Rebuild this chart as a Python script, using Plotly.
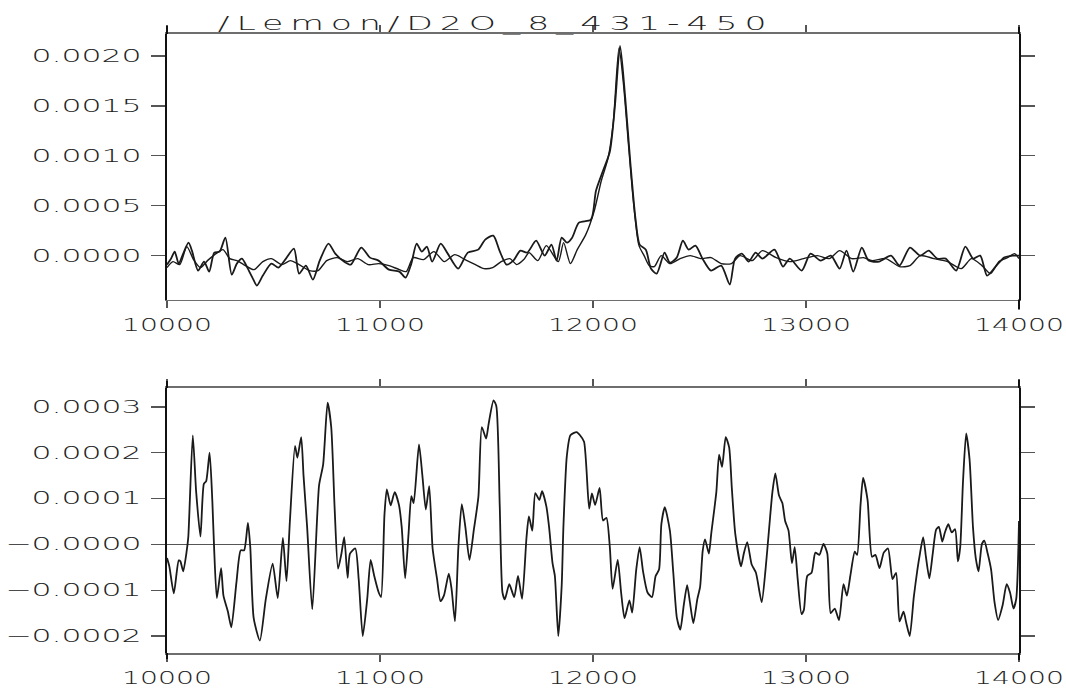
import plotly.graph_objects as go

# ---------------------------------------------------------------- data
TITLE = "/Lemon/D2O_8_431-450"

X_TICKS = [10000, 11000, 12000, 13000, 14000]
X_TICK_TEXT = ["10000", "11000", "12000", "13000", "14000"]

TOP_Y_TICKS = [0.0, 0.0005, 0.0010, 0.0015, 0.0020]
TOP_Y_TEXT = ["0.0000", "0.0005", "0.0010", "0.0015", "0.0020"]

BOT_Y_TICKS = [-0.0002, -0.0001, 0.0, 0.0001, 0.0002, 0.0003]
BOT_Y_TEXT = ["\u22120.0002", "\u22120.0001", "\u22120.0000", "0.0001", "0.0002", "0.0003"]

# values below are given in units of 1e-4
UNIT = 1e-4

# observed spectrum
obs_x = [10000, 10019, 10036, 10055, 10076, 10101, 10117, 10146, 10174, 10198,
         10222, 10247, 10274, 10304, 10328, 10352, 10377, 10401, 10422, 10450,
         10490, 10523, 10555, 10596, 10620, 10652, 10685, 10717, 10758, 10790,
         10831, 10863, 10912, 10953, 10993, 11042, 11091, 11120, 11147, 11172,
         11196, 11220, 11245, 11285, 11318, 11367, 11412, 11461, 11494, 11532,
         11561, 11594, 11626, 11659, 11691, 11733, 11773, 11805, 11829, 11853,
         11878, 11902, 11934, 11990, 12014, 12047, 12079, 12103, 12127, 12151,
         12175, 12200, 12219, 12248, 12272, 12299, 12336, 12361, 12393, 12422,
         12449, 12481, 12514, 12554, 12602, 12642, 12667, 12699, 12731, 12763,
         12795, 12852, 12892, 12924, 12980, 13021, 13069, 13117, 13158, 13190,
         13222, 13262, 13294, 13343, 13399, 13439, 13488, 13536, 13576, 13616,
         13656, 13705, 13748, 13785, 13818, 13850, 13890, 13930, 13971, 14000]
obs_y = [-0.9, -0.3, 0.4, -0.8, 0.2, 1.3, 0.5, -1.5, -0.6, -1.6,
         0.3, 0.4, 1.8, -1.9, -0.8, -0.3, -1.2, -2.2, -3.0, -2.0,
         -0.8, -1.2, -0.4, 0.7, -1.8, -1.0, -2.4, -0.5, 1.2, 0.2,
         -0.6, -0.9, 0.8, -0.2, -0.5, -1.4, -1.6, -2.2, -0.8, 1.2,
         0.4, 0.9, -0.6, 1.2, 0.2, -1.3, 0.3, 0.6, 1.6, 2.0,
         0.5, -0.9, -0.5, 0.5, 0.3, 1.5, 0.0, 1.1, -0.5, 1.8,
         1.3, 1.8, 3.3, 3.6, 6.5, 8.5, 10.4, 15.0, 21.0, 15.9,
         9.4, 3.6, 1.1, 0.6, -1.3, -1.8, 0.3, -0.7, -0.2, 1.5,
         0.6, 1.0, -0.3, -1.5, -1.0, -2.9, -0.3, 0.2, -0.6, 0.3,
         -0.3, 0.6, -1.1, -0.3, -1.5, 0.2, -0.5, 0.0, -1.3, 0.5,
         -1.6, 0.8, -0.5, -0.6, 0.0, -1.0, 0.8, 0.0, 0.5, -0.3,
         -0.3, -1.5, 0.9, -0.3, 0.0, -2.0, -1.1, -0.2, 0.0, 0.0]

# fitted spectrum
fit_x = [10000, 10028, 10060, 10093, 10125, 10157, 10190, 10230, 10263, 10295,
         10328, 10360, 10409, 10450, 10490, 10539, 10579, 10620, 10669, 10709,
         10750, 10799, 10847, 10896, 10945, 10993, 11042, 11091, 11123, 11156,
         11204, 11253, 11302, 11351, 11399, 11448, 11488, 11529, 11569, 11610,
         11642, 11675, 11700, 11741, 11781, 11837, 11862, 11894, 11926, 11966,
         12006, 12039, 12071, 12095, 12122, 12143, 12167, 12192, 12216, 12240,
         12264, 12288, 12320, 12361, 12409, 12457, 12505, 12554, 12602, 12650,
         12691, 12747, 12795, 12860, 12924, 12989, 13053, 13109, 13158, 13214,
         13270, 13310, 13375, 13439, 13488, 13536, 13600, 13665, 13729, 13777,
         13826, 13866, 13906, 13946, 13979, 14000]
fit_y = [-1.2, -0.6, -0.9, 0.9, -0.4, -1.2, -0.5, 0.2, 0.6, -0.3,
         -0.5, -0.9, -1.4, -0.6, -0.3, -0.9, -0.5, -0.9, -1.5, -1.5,
         -0.5, -0.2, -0.6, -0.3, -0.9, -0.8, -1.0, -1.4, -1.6, -0.2,
         -0.4, 0.4, -0.6, 0.1, -0.4, -0.9, -1.3, -1.2, -0.6, -0.3,
         -0.9, -0.4, 0.3, -0.5, 1.0, -0.6, 1.3, -0.8, 0.6, 2.1,
         4.5, 7.5, 9.8, 13.3, 20.8, 17.2, 11.0, 4.9, 1.0, 0.0,
         -1.0, -1.1, 0.0, -0.8, -0.3, 0.0, -0.3, -0.2, -0.8, -0.8,
         0.0, -0.5, 0.5, -0.2, -0.6, -0.3, 0.0, -0.3, 0.5, -0.3,
         -0.2, -0.5, -0.3, -1.1, -1.0, 0.0, -0.3, -0.6, -1.3, -0.3,
         -1.0, -1.8, -0.6, -0.2, 0.2, -0.3]

# residual
resid_x = [10000, 10011, 10032, 10055, 10063, 10076, 10092, 10100, 10121, 10137,
           10157, 10173, 10184, 10200, 10213, 10221, 10234, 10254, 10265, 10286,
           10302, 10326, 10346, 10362, 10380, 10391, 10407, 10436, 10464, 10496,
           10520, 10544, 10561, 10577, 10601, 10612, 10630, 10641, 10658, 10682,
           10714, 10733, 10754, 10771, 10787, 10803, 10819, 10832, 10848, 10859,
           10884, 10900, 10919, 10940, 10956, 10973, 10994, 11005, 11021, 11032,
           11050, 11069, 11089, 11102, 11118, 11134, 11147, 11158, 11183, 11199,
           11215, 11231, 11247, 11268, 11284, 11300, 11323, 11336, 11352, 11368,
           11384, 11401, 11420, 11441, 11462, 11478, 11498, 11510, 11533, 11546,
           11562, 11575, 11586, 11607, 11630, 11648, 11667, 11688, 11699, 11715,
           11729, 11748, 11761, 11781, 11794, 11810, 11821, 11837, 11853, 11861,
           11877, 11894, 11923, 11939, 11958, 11982, 11995, 12010, 12031, 12047,
           12063, 12079, 12092, 12116, 12132, 12148, 12171, 12184, 12203, 12219,
           12235, 12256, 12277, 12294, 12310, 12321, 12337, 12361, 12377, 12394,
           12410, 12426, 12442, 12455, 12471, 12490, 12503, 12515, 12526, 12544,
           12555, 12579, 12592, 12606, 12623, 12639, 12652, 12668, 12695, 12708,
           12724, 12745, 12765, 12792, 12810, 12826, 12842, 12856, 12873, 12889,
           12902, 12918, 12934, 12947, 12961, 12979, 12990, 13006, 13026, 13044,
           13063, 13082, 13100, 13116, 13135, 13155, 13176, 13192, 13208, 13229,
           13240, 13256, 13268, 13289, 13310, 13326, 13345, 13365, 13385, 13406,
           13423, 13439, 13458, 13471, 13487, 13506, 13523, 13535, 13550, 13563,
           13579, 13595, 13611, 13624, 13640, 13652, 13668, 13684, 13700, 13713,
           13724, 13737, 13752, 13768, 13784, 13797, 13810, 13826, 13837, 13853,
           13869, 13885, 13902, 13923, 13942, 13958, 13974, 13987, 14000]
resid_y = [-0.30, -0.48, -1.07, -0.35, -0.37, -0.59, -0.16, 0.16, 2.38, 1.14,
           0.17, 1.32, 1.38, 2.00, 0.93, -0.06, -1.17, -0.52, -1.12, -1.47,
           -1.81, -0.83, -0.13, -0.13, 0.47, -0.06, -1.61, -2.10, -1.19, -0.42,
           -1.17, 0.14, -0.80, 0.51, 2.15, 1.89, 2.34, 1.50, 0.37, -1.42,
           1.29, 1.74, 3.09, 2.56, 0.79, -0.53, -0.20, 0.16, -0.73, -0.20,
           -0.09, -0.76, -2.00, -1.19, -0.34, -0.69, -1.05, -1.15, 0.65, 1.20,
           0.85, 1.14, 0.86, 0.37, -0.74, 0.23, 1.05, 0.90, 2.18, 1.50,
           0.76, 1.27, -0.09, -0.76, -1.24, -1.12, -0.64, -0.97, -1.68, -0.06,
           0.88, 0.37, -0.34, 0.33, 1.04, 2.56, 2.31, 2.63, 3.14, 3.02,
           0.86, -1.05, -1.20, -0.87, -1.15, -0.69, -1.19, 0.16, 0.61, 0.30,
           1.12, 0.97, 1.16, 0.83, 0.37, -0.41, -0.69, -2.00, -0.90, 0.37,
           1.92, 2.38, 2.45, 2.38, 2.24, 0.78, 1.11, 0.86, 1.23, 0.52,
           0.58, -0.06, -0.97, -0.34, -1.05, -1.61, -1.22, -1.49, -0.55, -0.06,
           -0.59, -1.05, -1.15, -0.69, -0.55, 0.44, 0.81, 0.30, -0.62, -1.61,
           -1.86, -1.33, -0.89, -1.26, -1.72, -1.19, -0.92, -0.14, 0.11, -0.20,
           0.23, 1.14, 1.96, 1.69, 2.34, 2.12, 1.21, 0.23, -0.48, -0.20,
           0.05, -0.44, -0.62, -1.26, -0.55, 0.30, 1.13, 1.55, 1.07, 0.90,
           0.51, 0.30, -0.41, -0.06, -0.76, -1.52, -1.43, -0.69, -0.62, -0.18,
           -0.23, 0.01, -0.20, -1.50, -1.40, -1.65, -0.87, -1.12, -0.69, -0.16,
           -0.23, 0.86, 1.45, 0.97, -0.27, -0.23, -0.52, -0.18, -0.09, -0.76,
           -0.62, -1.68, -1.47, -1.72, -2.00, -1.15, -0.55, -0.20, 0.16, -0.27,
           -0.74, -0.20, 0.32, 0.38, 0.06, 0.26, 0.44, 0.26, 0.33, -0.37,
           -0.06, 1.36, 2.42, 1.85, 0.37, -0.30, -0.59, 0.01, 0.08, -0.20,
           -0.55, -1.26, -1.65, -1.33, -0.87, -1.05, -1.40, -1.19, 0.51]

assert len(obs_x) == len(obs_y)
assert len(fit_x) == len(fit_y)
assert len(resid_x) == len(resid_y)

# ---------------------------------------------------------------- figure
FONT = "DejaVu Sans ExtraLight, DejaVu Sans"
INK = "#1a1a1a"
TEXT_INK = "#222222"
AXIS_INK = "#111111"

fig = go.Figure()

fig.add_trace(go.Scatter(
    x=fit_x, y=[v * UNIT for v in fit_y], mode="lines",
    line=dict(color=INK, width=1.4, shape="spline", smoothing=0.7),
    xaxis="x", yaxis="y", hoverinfo="skip"))
fig.add_trace(go.Scatter(
    x=obs_x, y=[v * UNIT for v in obs_y], mode="lines",
    line=dict(color=INK, width=1.8, shape="spline", smoothing=0.7),
    xaxis="x", yaxis="y", hoverinfo="skip"))
fig.add_trace(go.Scatter(
    x=resid_x, y=[v * UNIT for v in resid_y], mode="lines",
    line=dict(color=INK, width=1.8, shape="spline", smoothing=0.6),
    xaxis="x2", yaxis="y2", hoverinfo="skip"))

tick_font = dict(family=FONT, size=17, color=TEXT_INK, weight=300)

x_common = dict(
    range=[10000, 14000], tickmode="array", tickvals=X_TICKS, ticktext=X_TICK_TEXT,
    ticks="outside", ticklen=7, tickwidth=1.3, tickcolor="#555",
    showline=True, linecolor="#6e6e6e", linewidth=1.6, mirror="ticks",
    showgrid=False, zeroline=False, tickfont=tick_font, ticklabelstandoff=2,
    fixedrange=True)
y_common = dict(
    ticks="outside", ticklen=14, tickwidth=1.3, tickcolor="#555",
    showline=True, linecolor=AXIS_INK, linewidth=2, mirror="ticks",
    showgrid=False, tickfont=tick_font, tickmode="array", ticklabelstandoff=6,
    fixedrange=True)


def axis_stub(xref, yref, side, edge, length):
    """Short overrun of a vertical axis line past the top or bottom of its frame."""
    y0, y1 = (0, length) if edge == 1 else (-length, 0)
    return dict(type="line", xref=xref, yref=yref, x0=side, x1=side,
                ysizemode="pixel", yanchor=edge, y0=y0, y1=y1,
                line=dict(color=AXIS_INK, width=2))


stubs = [
    axis_stub("x domain", "y domain", 0, 1, 8),
    axis_stub("x domain", "y domain", 1, 1, 7),
    axis_stub("x domain", "y domain", 1, 0, 10),
    axis_stub("x2 domain", "y2 domain", 0, 1, 7),
    axis_stub("x2 domain", "y2 domain", 1, 1, 8),
    axis_stub("x2 domain", "y2 domain", 0, 0, 6),
    axis_stub("x2 domain", "y2 domain", 1, 0, 7),
]

fig.update_layout(
    width=1066, height=700,
    margin=dict(l=167, r=47, t=34, b=27),
    paper_bgcolor="white", plot_bgcolor="white",
    showlegend=False,
    xaxis=dict(domain=[0, 1], anchor="y", **x_common),
    yaxis=dict(domain=[0.571, 1], anchor="x", range=[-0.00044, 0.00222],
               tickvals=TOP_Y_TICKS, ticktext=TOP_Y_TEXT, zeroline=False, **y_common),
    xaxis2=dict(domain=[0, 1], anchor="y2", **x_common),
    yaxis2=dict(domain=[0, 0.428], anchor="x2", range=[-0.000237, 0.000341],
                tickvals=BOT_Y_TICKS, ticktext=BOT_Y_TEXT,
                zeroline=True, zerolinecolor="#555", zerolinewidth=1.1, **y_common),
    shapes=stubs,
    annotations=[dict(
        text=TITLE, xref="paper", yref="paper", x=0.3856, y=1.0,
        xanchor="center", yanchor="bottom", showarrow=False, yshift=-3,
        font=dict(family=FONT, size=20, color=TEXT_INK, weight=300))],
)

# The labels are set in a wide, spaced face: stretch the rendered text runs.
post_script = """
var gd = document.getElementById('{plot_id}');
function stretch(sel, k, spacing) {
  gd.querySelectorAll(sel).forEach(function (t) {
    if (spacing) { t.style.letterSpacing = spacing; }
    var w = t.getComputedTextLength();
    t.setAttribute('textLength', (w * k).toFixed(1));
    t.setAttribute('lengthAdjust', 'spacingAndGlyphs');
  });
}
stretch('.xaxislayer-above text', 1.66, null);
stretch('.yaxislayer-above text', 1.85, null);
stretch('.annotation-text', 1.73, '4px');
"""

fig.write_html("out.html", post_script=post_script, config={"staticPlot": True})
